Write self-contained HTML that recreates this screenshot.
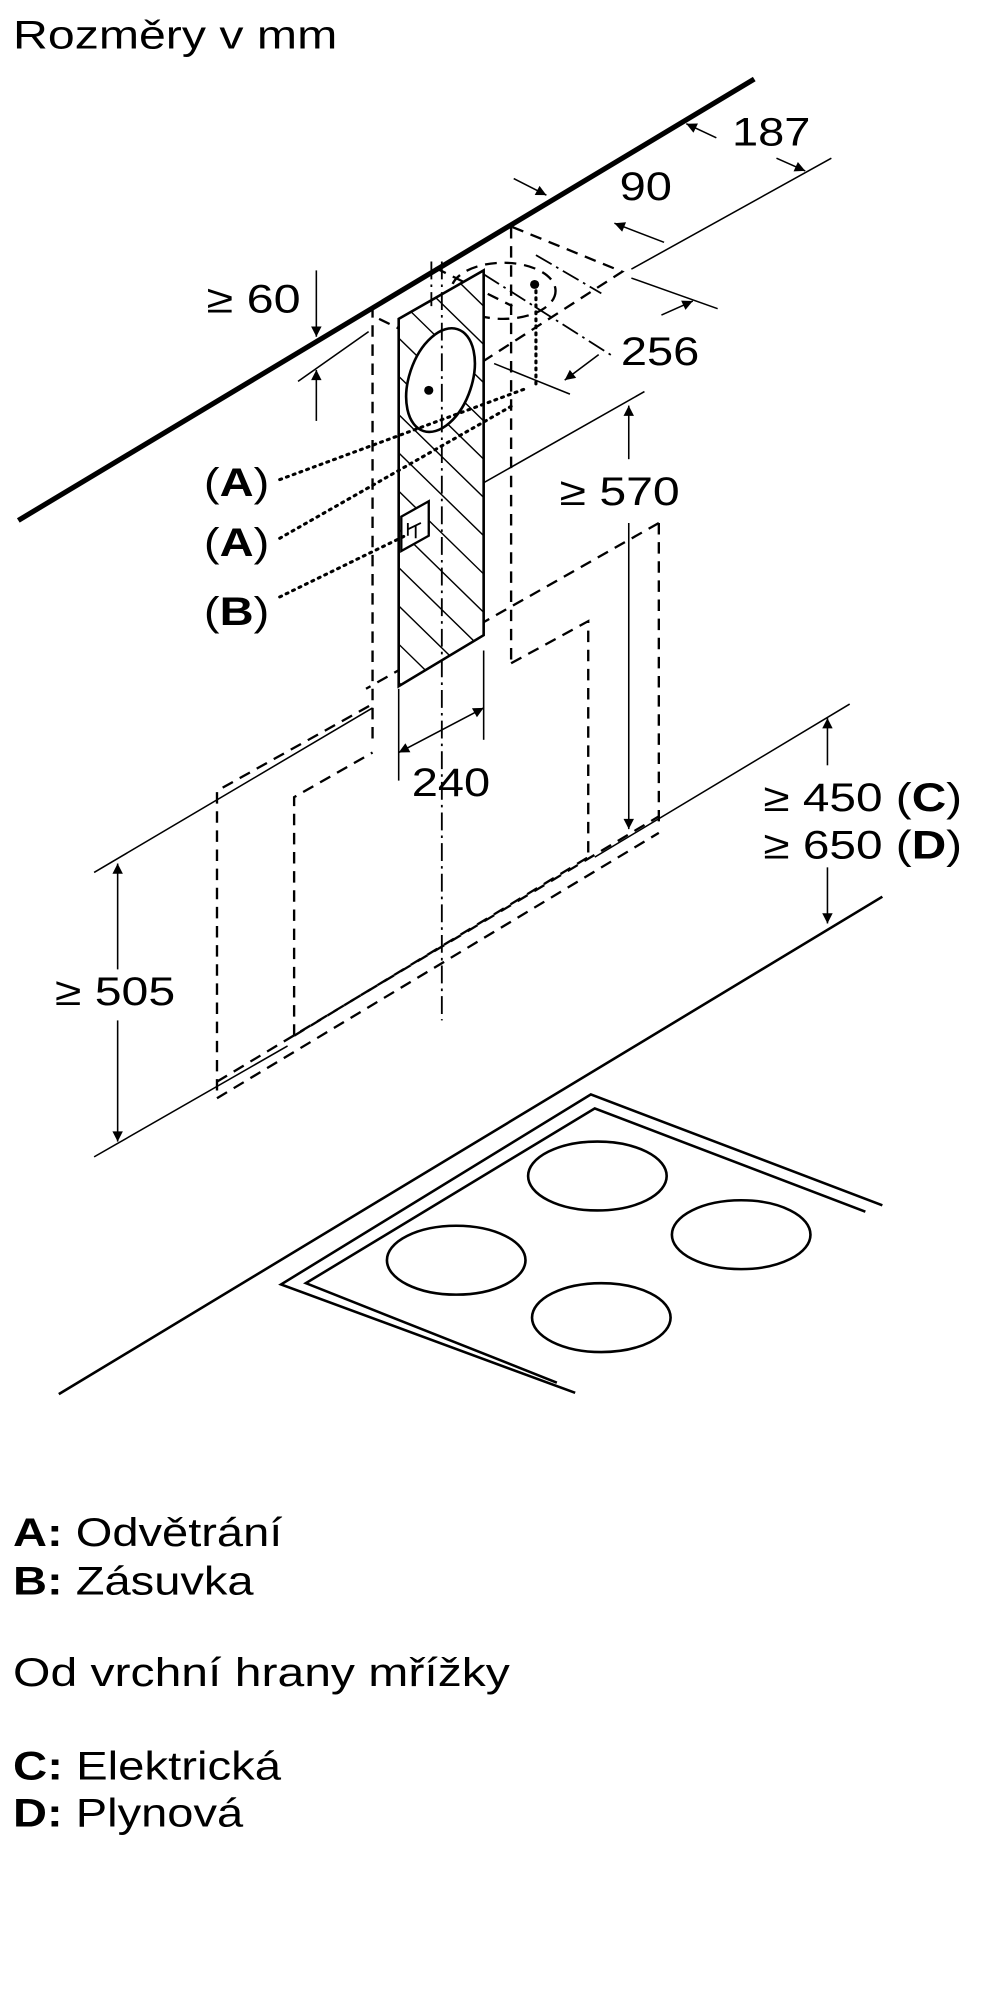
<!DOCTYPE html>
<html><head><meta charset="utf-8"><style>html,body{margin:0;padding:0;background:#fff}svg{display:block}</style></head>
<body>
<svg width="1000" height="2000" viewBox="0 0 765 1568" preserveAspectRatio="none" xmlns="http://www.w3.org/2000/svg" font-family="Liberation Sans, Arial, sans-serif" fill="none" stroke="#000">
<defs>
<marker id="ar" viewBox="0 0 10 10" refX="10" refY="5" markerWidth="14" markerHeight="8" orient="auto-start-reverse" markerUnits="userSpaceOnUse"><path d="M0,0 L10,5 L0,10 z" fill="#000" stroke="none"/></marker>
<clipPath id="pc"><polygon points="305,250 370,212 370,498 305,538"/></clipPath>
</defs>
<g fill="#000" stroke="none" font-size="31">
<text x="10" y="38" textLength="248" lengthAdjust="spacingAndGlyphs">Rozměry v mm</text>
<text x="560" y="114" textLength="60" lengthAdjust="spacingAndGlyphs">187</text>
<text x="474" y="157" textLength="40" lengthAdjust="spacingAndGlyphs">90</text>
<text x="158" y="245" textLength="72" lengthAdjust="spacingAndGlyphs">≥ 60</text>
<text x="475" y="286" textLength="60" lengthAdjust="spacingAndGlyphs">256</text>
<text x="428" y="396" textLength="92" lengthAdjust="spacingAndGlyphs">≥ 570</text>
<text x="156" y="389" textLength="50" lengthAdjust="spacingAndGlyphs">(<tspan font-weight="bold">A</tspan>)</text>
<text x="156" y="436" textLength="50" lengthAdjust="spacingAndGlyphs">(<tspan font-weight="bold">A</tspan>)</text>
<text x="156" y="490" textLength="50" lengthAdjust="spacingAndGlyphs">(<tspan font-weight="bold">B</tspan>)</text>
<text x="315" y="624" textLength="60" lengthAdjust="spacingAndGlyphs">240</text>
<text x="584" y="636" textLength="152" lengthAdjust="spacingAndGlyphs">≥ 450 (<tspan font-weight="bold">C</tspan>)</text>
<text x="584" y="673" textLength="152" lengthAdjust="spacingAndGlyphs">≥ 650 (<tspan font-weight="bold">D</tspan>)</text>
<text x="42" y="788" textLength="92" lengthAdjust="spacingAndGlyphs">≥ 505</text>
<text x="10" y="1212" textLength="206" lengthAdjust="spacingAndGlyphs"><tspan font-weight="bold">A:</tspan> Odvětrání</text>
<text x="10" y="1250" textLength="184" lengthAdjust="spacingAndGlyphs"><tspan font-weight="bold">B:</tspan> Zásuvka</text>
<text x="10" y="1322" textLength="380" lengthAdjust="spacingAndGlyphs">Od vrchní hrany mřížky</text>
<text x="10" y="1395" textLength="205" lengthAdjust="spacingAndGlyphs"><tspan font-weight="bold">C:</tspan> Elektrická</text>
<text x="10" y="1432" textLength="176" lengthAdjust="spacingAndGlyphs"><tspan font-weight="bold">D:</tspan> Plynová</text>
</g>
<line x1="14" y1="408" x2="577" y2="62" stroke-width="4"/>
<g stroke-width="1.2">
<line x1="636" y1="124" x2="483" y2="211"/>
<line x1="483" y1="218" x2="549" y2="242"/>
<line x1="378" y1="285" x2="436" y2="309"/>
<line x1="228" y1="299" x2="282" y2="260"/>
<line x1="314" y1="411" x2="493" y2="307"/>
<line x1="72" y1="684" x2="285" y2="555"/>
<line x1="72" y1="907" x2="220" y2="820"/>
<line x1="455" y1="672" x2="650" y2="552"/>
<line x1="305" y1="540" x2="305" y2="612"/>
<line x1="370" y1="510" x2="370" y2="580"/>
<line x1="470" y1="175" x2="508" y2="190" marker-start="url(#ar)"/>
<line x1="525" y1="97" x2="548" y2="108" marker-start="url(#ar)"/>
<line x1="594" y1="124" x2="616" y2="134" marker-end="url(#ar)"/>
<line x1="393" y1="140" x2="418" y2="153" marker-end="url(#ar)"/>
<line x1="242" y1="212" x2="242" y2="264" marker-end="url(#ar)"/>
<line x1="242" y1="330" x2="242" y2="290" marker-end="url(#ar)"/>
<line x1="458" y1="278" x2="432" y2="298" marker-end="url(#ar)"/>
<line x1="506" y1="247" x2="530" y2="236" marker-end="url(#ar)"/>
<line x1="481" y1="360" x2="481" y2="318" marker-end="url(#ar)"/>
<line x1="481" y1="410" x2="481" y2="650" marker-end="url(#ar)"/>
<line x1="305" y1="590" x2="370" y2="555" marker-start="url(#ar)" marker-end="url(#ar)"/>
<line x1="633" y1="600" x2="633" y2="563" marker-end="url(#ar)"/>
<line x1="633" y1="680" x2="633" y2="724" marker-end="url(#ar)"/>
<line x1="90" y1="760" x2="90" y2="677" marker-end="url(#ar)"/>
<line x1="90" y1="800" x2="90" y2="895" marker-end="url(#ar)"/>
</g>
<g stroke-width="1.8" stroke-dasharray="9,6">
<polyline points="392,178 476,213 370,283"/>
<line x1="333" y1="210" x2="392" y2="240"/>
<line x1="290" y1="250" x2="370" y2="290"/>
<line x1="391" y1="178" x2="391" y2="520"/>
<line x1="285" y1="240" x2="285" y2="585"/>
<line x1="504" y1="410" x2="280" y2="540"/>
<polyline points="391,520 450,487 450,670"/>
<line x1="504" y1="410" x2="504" y2="650"/>
<polyline points="166,855 166,620 285,552"/>
<polyline points="225,812 225,625 285,590"/>
<line x1="166" y1="848" x2="504" y2="640"/>
<line x1="166" y1="861" x2="504" y2="653"/>
<line x1="225" y1="812" x2="450" y2="672"/>
<ellipse cx="385" cy="228" rx="40" ry="22"/>
</g>
<polygon points="305,250 370,212 370,498 305,538" fill="#fff" stroke-width="2"/>
<g clip-path="url(#pc)" stroke-width="1.1">
<path d="M240,200 L420,380 M240,230 L420,410 M240,260 L420,440 M240,290 L420,470 M240,320 L420,500 M240,350 L420,530 M240,380 L420,560 M240,410 L420,590 M240,440 L420,620 M240,470 L420,650 M240,170 L420,350 M240,140 L420,320 M240,110 L420,290 M240,80 L420,260 M240,500 L420,680"/>
</g>
<ellipse cx="337" cy="298" rx="24" ry="42" transform="rotate(18 337 298)" fill="#fff" stroke-width="2"/>
<circle cx="328" cy="306" r="3.5" fill="#000" stroke="none"/>
<circle cx="409" cy="223" r="3.5" fill="#000" stroke="none"/>
<polygon points="307,405 328,393 328,420 307,432" fill="#fff" stroke-width="1.8"/>
<path d="M312,420 l0,-10 M312,415 l10,-5 M318,412 l0,10" stroke-width="1.4"/>
<g stroke-width="1.4" stroke-dasharray="14,4,2,4">
<line x1="338" y1="205" x2="338" y2="800"/>
<line x1="330" y1="205" x2="330" y2="240"/>
<line x1="370" y1="215" x2="470" y2="280"/>
<line x1="410" y1="200" x2="460" y2="230"/>
</g>
<g stroke-width="2.4" stroke-dasharray="1.5,4" stroke-linecap="round">
<line x1="214" y1="376" x2="404" y2="304"/>
<line x1="214" y1="422" x2="392" y2="318"/>
<line x1="214" y1="468" x2="310" y2="420"/>
<line x1="410" y1="228" x2="410" y2="305"/>
</g>
<line x1="45" y1="1093" x2="675" y2="703" stroke-width="2"/>
<g stroke-width="2">
<polyline points="675,945 452,858 215,1007 440,1092"/>
<polyline points="662,950 455,869 234,1006 426,1084"/>
<ellipse cx="457" cy="922" rx="53" ry="27"/>
<ellipse cx="567" cy="968" rx="53" ry="27"/>
<ellipse cx="349" cy="988" rx="53" ry="27"/>
<ellipse cx="460" cy="1033" rx="53" ry="27"/>
</g>
</svg>
</body></html>
